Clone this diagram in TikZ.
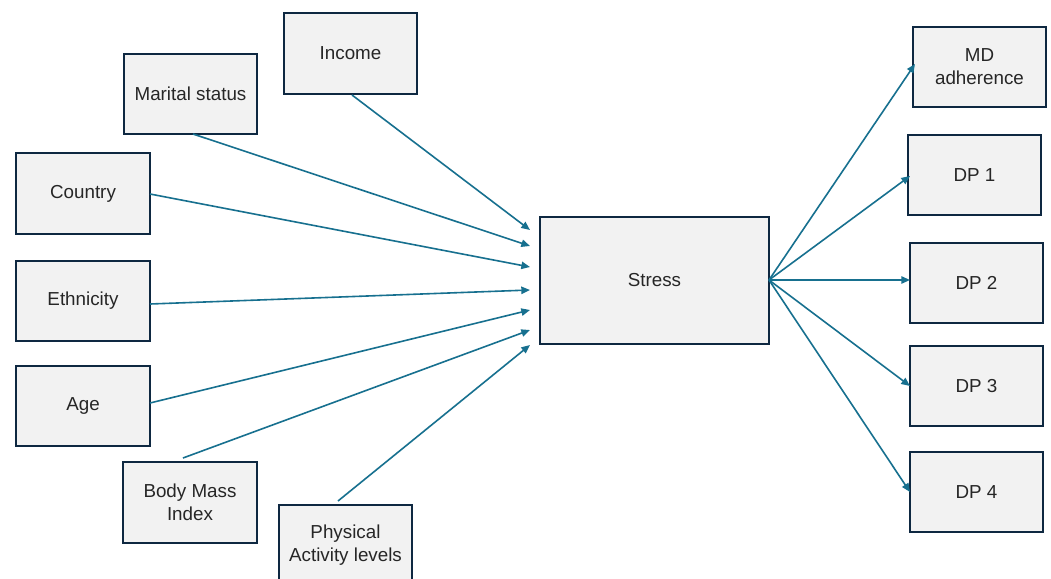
\documentclass[tikz,border=0pt]{standalone}
\usepackage{fontspec}
\setmainfont{Liberation Sans}
\usetikzlibrary{arrows.meta}
\definecolor{arrowc}{HTML}{17708F}
\definecolor{boxline}{HTML}{0E2841}
\definecolor{boxfill}{HTML}{F2F2F2}
\tikzset{
  box/.style={draw=boxline, line width=1.4pt, fill=boxfill, font=\fontsize{14.1}{17.3}\selectfont, align=center, text=black!85},
  link/.style={draw=arrowc, line width=1.2pt, -{Triangle[length=6.5pt,width=5.5pt]}},
}
\begin{document}
\begin{tikzpicture}[x=0.75pt,y=-0.75pt]
\useasboundingbox (0,0) rectangle (1051,579);
\clip (0,0) rectangle (1051,579);
\fill[white] (0,0) rectangle (1051,579);
% left boxes
\draw[box] (284,13) rectangle (417,94) node[midway] (income) {Income};
\draw[box] (124,54) rectangle (257,134) node[midway] (marital) {Marital status};
\draw[box] (16,153) rectangle (150,234) node[midway] (country) {Country};
\draw[box] (16,261) rectangle (150,341) node[midway] (ethnicity) {Ethnicity};
\draw[box] (16,366) rectangle (150,446) node[midway] (age) {Age};
\draw[box] (123,462) rectangle (257,543) node[midway] (bmi) {Body Mass\\Index};
\draw[box] (279,505) rectangle (412,600);
\node[box, draw=none, fill=none] (pa) at (345.5,545) {Physical\\Activity levels};
% stress
\draw[box] (540,217) rectangle (769,344) node[midway] (stress) {Stress};
% right boxes
\draw[box] (913,27) rectangle (1046,107) node[midway] (md) {MD\\adherence};
\draw[box] (908,135) rectangle (1041,215) node[midway] (dp1) {DP 1};
\draw[box] (910,243) rectangle (1043,323) node[midway] (dp2) {DP 2};
\draw[box] (910,346) rectangle (1043,426) node[midway] (dp3) {DP 3};
\draw[box] (910,452) rectangle (1043,532) node[midway] (dp4) {DP 4};
% connection points
\coordinate (iS) at (352,95);   \coordinate (iE) at (530,230);
\coordinate (mS) at (193,134);  \coordinate (mE) at (530,246);
\coordinate (cS) at (150,194);  \coordinate (cE) at (530,267);
\coordinate (eS) at (150,304);  \coordinate (eE) at (530,290);
\coordinate (aS) at (150,403);  \coordinate (aE) at (530,310);
\coordinate (bS) at (183,458);  \coordinate (bE) at (530,330);
\coordinate (pS) at (338,501);  \coordinate (pE) at (530,345);
\coordinate (sO) at (769,280);
\coordinate (mdE) at (915,64);
\coordinate (d1E) at (910,176);
\coordinate (d2E) at (910,280);
\coordinate (d3E) at (910,386);
\coordinate (d4E) at (910,492);
\draw[link] (iS) -- (iE);
\draw[link] (mS) -- (mE);
\draw[link] (cS) -- (cE);
\draw[link] (eS) -- (eE);
\draw[link] (aS) -- (aE);
\draw[link] (bS) -- (bE);
\draw[link] (pS) -- (pE);
\draw[link] (sO) -- (mdE);
\draw[link] (sO) -- (d1E);
\draw[link] (sO) -- (d2E);
\draw[link] (sO) -- (d3E);
\draw[link] (sO) -- (d4E);
\end{tikzpicture}
\end{document}
